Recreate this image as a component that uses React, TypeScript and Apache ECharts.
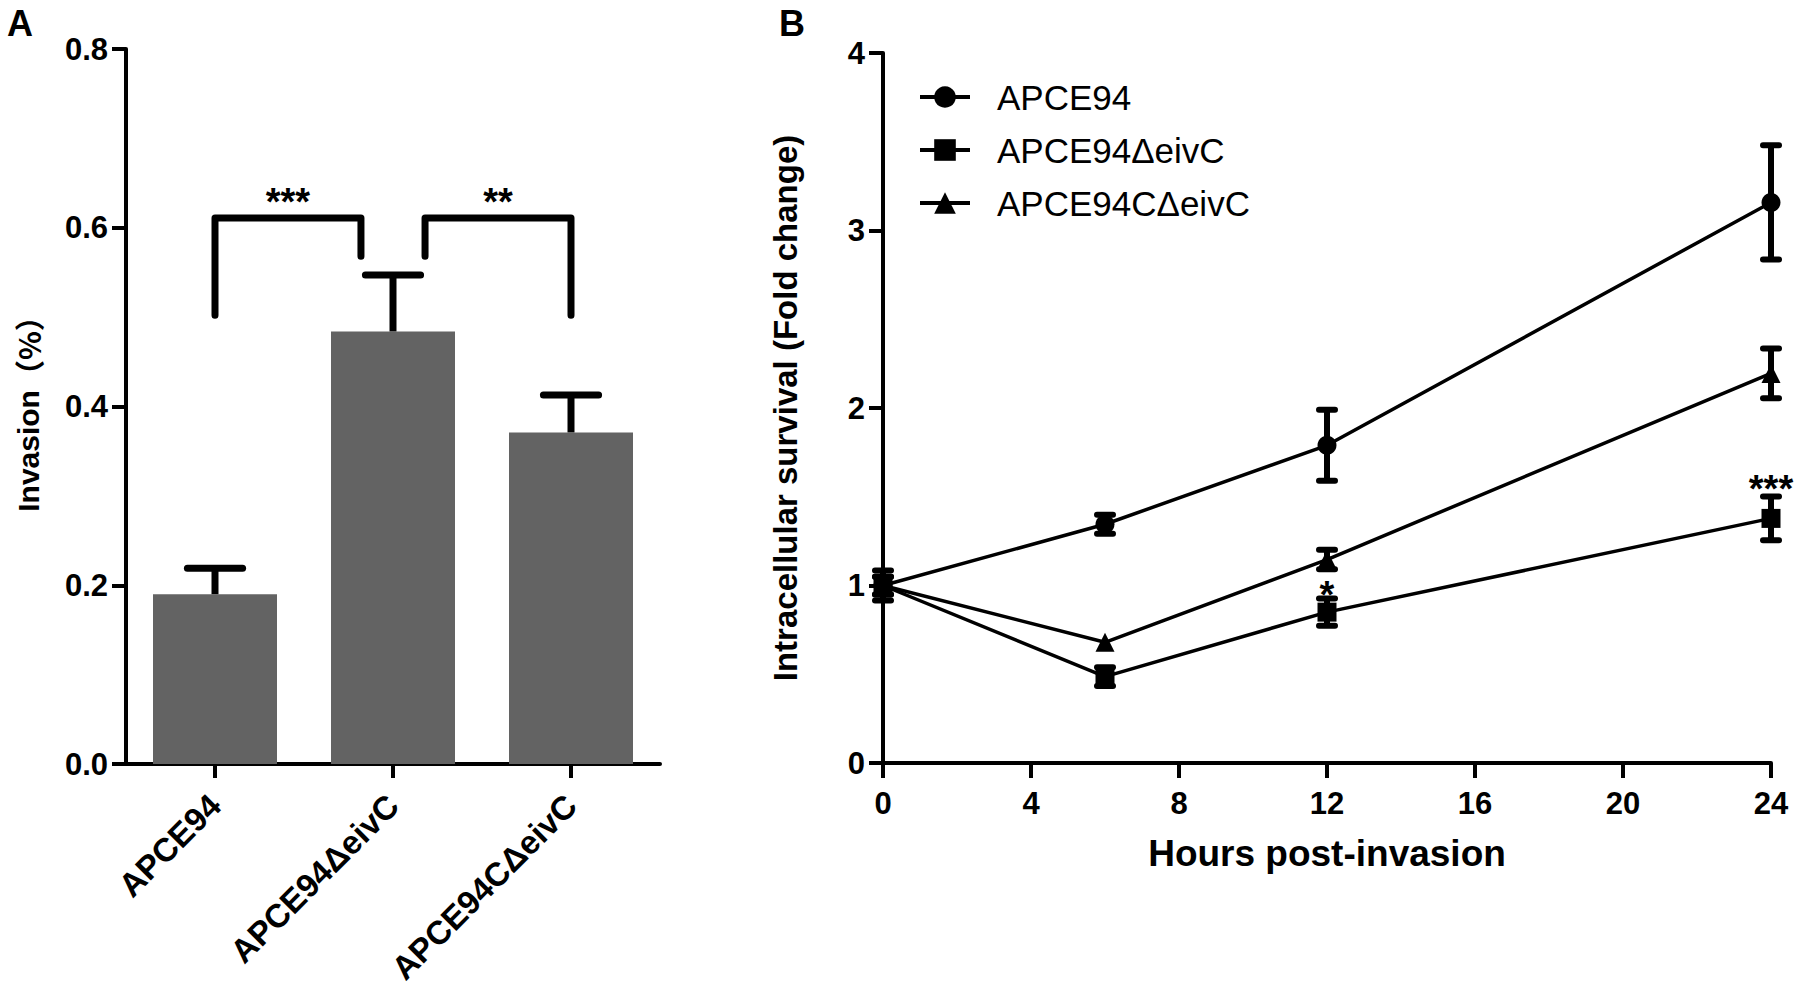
import React, { useEffect, useRef } from 'react';
import * as echarts from 'echarts';

// ---------- Panel A data ----------
const strains = ['APCE94', 'APCE94ΔeivC', 'APCE94CΔeivC'];
const invasionMean = [0.19, 0.484, 0.371];
const invasionSem = [0.029, 0.063, 0.042];
const invasionTicks = { min: 0, max: 0.8, step: 0.2 };
// significance brackets (positions in category units, values on the y axis)
const bracketFrom = [0, 1.18];
const bracketTo = [0.82, 2];
const bracketTop = [0.611, 0.611];
const bracketLeftFoot = [0.502, 0.568];
const bracketRightFoot = [0.568, 0.502];
const bracketLabelY = [0.629, 0.629];
const bracketLabels = ['***', '**'];

// ---------- Panel B data ----------
const hours = [0, 6, 12, 24];
const survivalWT = [1.0, 1.345, 1.79, 3.158];
const survivalWTErr = [0.05, 0.054, 0.2, 0.322];
const survivalMut = [1.0, 0.487, 0.85, 1.378];
const survivalMutErr = [0.085, 0.053, 0.077, 0.123];
const survivalComp = [1.0, 0.68, 1.146, 2.195];
const survivalCompErr = [0.05, 0, 0.055, 0.14];
const survivalSigX = [12, 24];
const survivalSigY = [0.946, 1.544];
const survivalSigLabels = ['*', '***'];
const hourTicks = { min: 0, max: 24, step: 4 };
const foldTicks = { min: 0, max: 4, step: 1 };

const FONT = '"Liberation Sans", Arial, "Noto Sans CJK SC", sans-serif';
const CJK = '"Noto Sans CJK SC", sans-serif';
const BLACK = '#000000';

function catX(api: any, pos: number) {
  const i = Math.floor(pos);
  const base = api.coord([i, 0])[0];
  const band = api.size([1, 0])[0];
  return base + (pos - i) * band;
}

export default function App() {
  const ref = useRef<HTMLDivElement>(null);

  useEffect(() => {
    if (!ref.current) return;
    const chart = echarts.init(ref.current, undefined, { renderer: 'svg' });

    const lineSeries = [
      { name: strains[0], v: survivalWT, e: survivalWTErr, symbol: 'circle' },
      { name: strains[1], v: survivalMut, e: survivalMutErr, symbol: 'rect' },
      { name: strains[2], v: survivalComp, e: survivalCompErr, symbol: 'triangle' },
    ];

    const axisLine = { show: true, lineStyle: { color: BLACK, width: 4 } };
    const tickStyle = { color: BLACK, width: 4 };
    const tickLabel = { color: BLACK, fontSize: 31, fontWeight: 'bold' as const, fontFamily: FONT };

    const option: any = {
      animation: false,
      backgroundColor: '#ffffff',
      title: [
        { text: 'A', left: 7, top: 5, padding: 0, textStyle: { fontSize: 36, fontWeight: 'bold', color: BLACK, fontFamily: FONT } },
        { text: 'B', left: 779, top: 5, padding: 0, textStyle: { fontSize: 36, fontWeight: 'bold', color: BLACK, fontFamily: FONT } },
      ],
      legend: {
        orient: 'vertical',
        left: 918,
        top: 79.5,
        padding: 0,
        itemWidth: 50,
        itemHeight: 27,
        itemGap: 18,
        selectedMode: false,
        data: strains,
        lineStyle: { width: 4, color: BLACK },
        itemStyle: { color: BLACK },
        textStyle: { fontSize: 35, lineHeight: 35, color: BLACK, fontFamily: FONT, padding: [0, 0, 0, 22] },
      },
      grid: [
        { left: 126, top: 49, width: 534, height: 715, containLabel: false },
        { left: 883, top: 53, width: 888, height: 710, containLabel: false },
      ],
      xAxis: [
        {
          type: 'category',
          gridIndex: 0,
          data: strains,
          boundaryGap: true,
          axisLine,
          axisTick: { show: true, alignWithLabel: true, length: 14, lineStyle: tickStyle },
          axisLabel: { ...tickLabel, fontSize: 33, rotate: 45, interval: 0, margin: 36 },
          splitLine: { show: false },
        },
        {
          type: 'value',
          gridIndex: 1,
          min: hourTicks.min,
          max: hourTicks.max,
          interval: hourTicks.step,
          axisLine,
          axisTick: { show: true, length: 15, lineStyle: tickStyle },
          axisLabel: { ...tickLabel, margin: 25 },
          splitLine: { show: false },
          name: 'Hours post-invasion',
          nameLocation: 'middle',
          nameGap: 72,
          nameTextStyle: { fontSize: 37, fontWeight: 'bold', color: BLACK, fontFamily: FONT },
        },
      ],
      yAxis: [
        {
          type: 'value',
          gridIndex: 0,
          min: invasionTicks.min,
          max: invasionTicks.max,
          interval: invasionTicks.step,
          axisLine,
          axisTick: { show: true, length: 14, lineStyle: tickStyle },
          axisLabel: { ...tickLabel, margin: 18, formatter: (v: number) => v.toFixed(1) },
          splitLine: { show: false },
          name: 'Invasion{p|（%）}',
          nameLocation: 'middle',
          nameGap: 83,
          nameTextStyle: {
            fontSize: 30,
            fontWeight: 'bold',
            color: BLACK,
            fontFamily: FONT,
            rich: { p: { fontSize: 30, fontWeight: 'bold', color: BLACK, fontFamily: CJK } },
          },
        },
        {
          type: 'value',
          gridIndex: 1,
          min: foldTicks.min,
          max: foldTicks.max,
          interval: foldTicks.step,
          axisLine,
          axisTick: { show: true, length: 14, lineStyle: tickStyle },
          axisLabel: { ...tickLabel, margin: 18 },
          splitLine: { show: false },
          name: 'Intracellular survival (Fold change)',
          nameLocation: 'middle',
          nameGap: 81,
          nameTextStyle: { fontSize: 33, fontWeight: 'bold', color: BLACK, fontFamily: FONT },
        },
      ],
      series: [
        {
          type: 'bar',
          xAxisIndex: 0,
          yAxisIndex: 0,
          data: invasionMean,
          barWidth: 124,
          itemStyle: { color: '#636363' },
          z: 2,
        },
        {
          type: 'custom',
          xAxisIndex: 0,
          yAxisIndex: 0,
          z: 3,
          data: invasionMean.map((m, i) => [i, m, invasionSem[i]]),
          renderItem: (params: any, api: any) => {
            const i = api.value(0);
            const m = api.value(1);
            const e = api.value(2);
            const p0 = api.coord([i, m]);
            const p1 = api.coord([i, m + e]);
            const hw = api.size([1, 0])[0] * 0.155;
            return {
              type: 'group',
              children: [
                { type: 'line', shape: { x1: p0[0], y1: p0[1], x2: p1[0], y2: p1[1] }, style: { stroke: BLACK, lineWidth: 7 } },
                { type: 'line', shape: { x1: p1[0] - hw, y1: p1[1], x2: p1[0] + hw, y2: p1[1] }, style: { stroke: BLACK, lineWidth: 7, lineCap: 'round' } },
              ],
            };
          },
        },
        {
          type: 'custom',
          xAxisIndex: 0,
          yAxisIndex: 0,
          z: 4,
          data: bracketTop.map((t, i) => [Math.round(bracketFrom[i]), t]),
          renderItem: (params: any, api: any) => {
            const k = params.dataIndex;
            const x1 = catX(api, bracketFrom[k]);
            const x2 = catX(api, bracketTo[k]);
            const yTop = api.coord([0, bracketTop[k]])[1];
            const yL = api.coord([0, bracketLeftFoot[k]])[1];
            const yR = api.coord([0, bracketRightFoot[k]])[1];
            const yT = api.coord([0, bracketLabelY[k]])[1];
            return {
              type: 'group',
              children: [
                {
                  type: 'polyline',
                  shape: { points: [[x1, yL], [x1, yTop], [x2, yTop], [x2, yR]] },
                  style: { stroke: BLACK, lineWidth: 7, fill: 'none', lineCap: 'round', lineJoin: 'round' },
                },
                {
                  type: 'text',
                  x: (x1 + x2) / 2,
                  y: yT,
                  style: { text: bracketLabels[k], fontSize: 38, fontWeight: 'bold', fontFamily: FONT, fill: BLACK, align: 'center', verticalAlign: 'middle' },
                },
              ],
            };
          },
        },
        ...lineSeries.map((s) => ({
          type: 'line',
          name: s.name,
          xAxisIndex: 1,
          yAxisIndex: 1,
          data: hours.map((h, i) => [h, s.v[i]]),
          symbol: s.symbol,
          symbolSize: 19,
          lineStyle: { color: BLACK, width: 3.5 },
          itemStyle: { color: BLACK },
          z: 3,
        })),
        ...lineSeries.map((s) => ({
          type: 'custom',
          xAxisIndex: 1,
          yAxisIndex: 1,
          z: 4,
          data: hours.map((h, i) => [h, s.v[i], s.e[i]]),
          renderItem: (params: any, api: any) => {
            const x = api.value(0);
            const m = api.value(1);
            const e = api.value(2);
            if (!e) return null;
            const top = api.coord([x, m + e]);
            const bot = api.coord([x, m - e]);
            const hw = 8;
            return {
              type: 'group',
              children: [
                { type: 'line', shape: { x1: top[0], y1: top[1], x2: bot[0], y2: bot[1] }, style: { stroke: BLACK, lineWidth: 6 } },
                { type: 'line', shape: { x1: top[0] - hw, y1: top[1], x2: top[0] + hw, y2: top[1] }, style: { stroke: BLACK, lineWidth: 6, lineCap: 'round' } },
                { type: 'line', shape: { x1: bot[0] - hw, y1: bot[1], x2: bot[0] + hw, y2: bot[1] }, style: { stroke: BLACK, lineWidth: 6, lineCap: 'round' } },
              ],
            };
          },
        })),
        {
          type: 'custom',
          xAxisIndex: 1,
          yAxisIndex: 1,
          z: 5,
          data: survivalSigX.map((x, i) => [x, survivalSigY[i]]),
          renderItem: (params: any, api: any) => {
            const p = api.coord([api.value(0), api.value(1)]);
            return {
              type: 'text',
              x: p[0],
              y: p[1],
              style: { text: survivalSigLabels[params.dataIndex], fontSize: 38, fontWeight: 'bold', fontFamily: FONT, fill: BLACK, align: 'center', verticalAlign: 'middle' },
            };
          },
        },
      ],
    };

    chart.setOption(option);
    return () => chart.dispose();
  }, []);

  return (
    <div
      ref={ref}
      style={{ position: 'fixed', left: 0, top: 0, width: 1800, height: 995, background: '#fff' }}
    />
  );
}
